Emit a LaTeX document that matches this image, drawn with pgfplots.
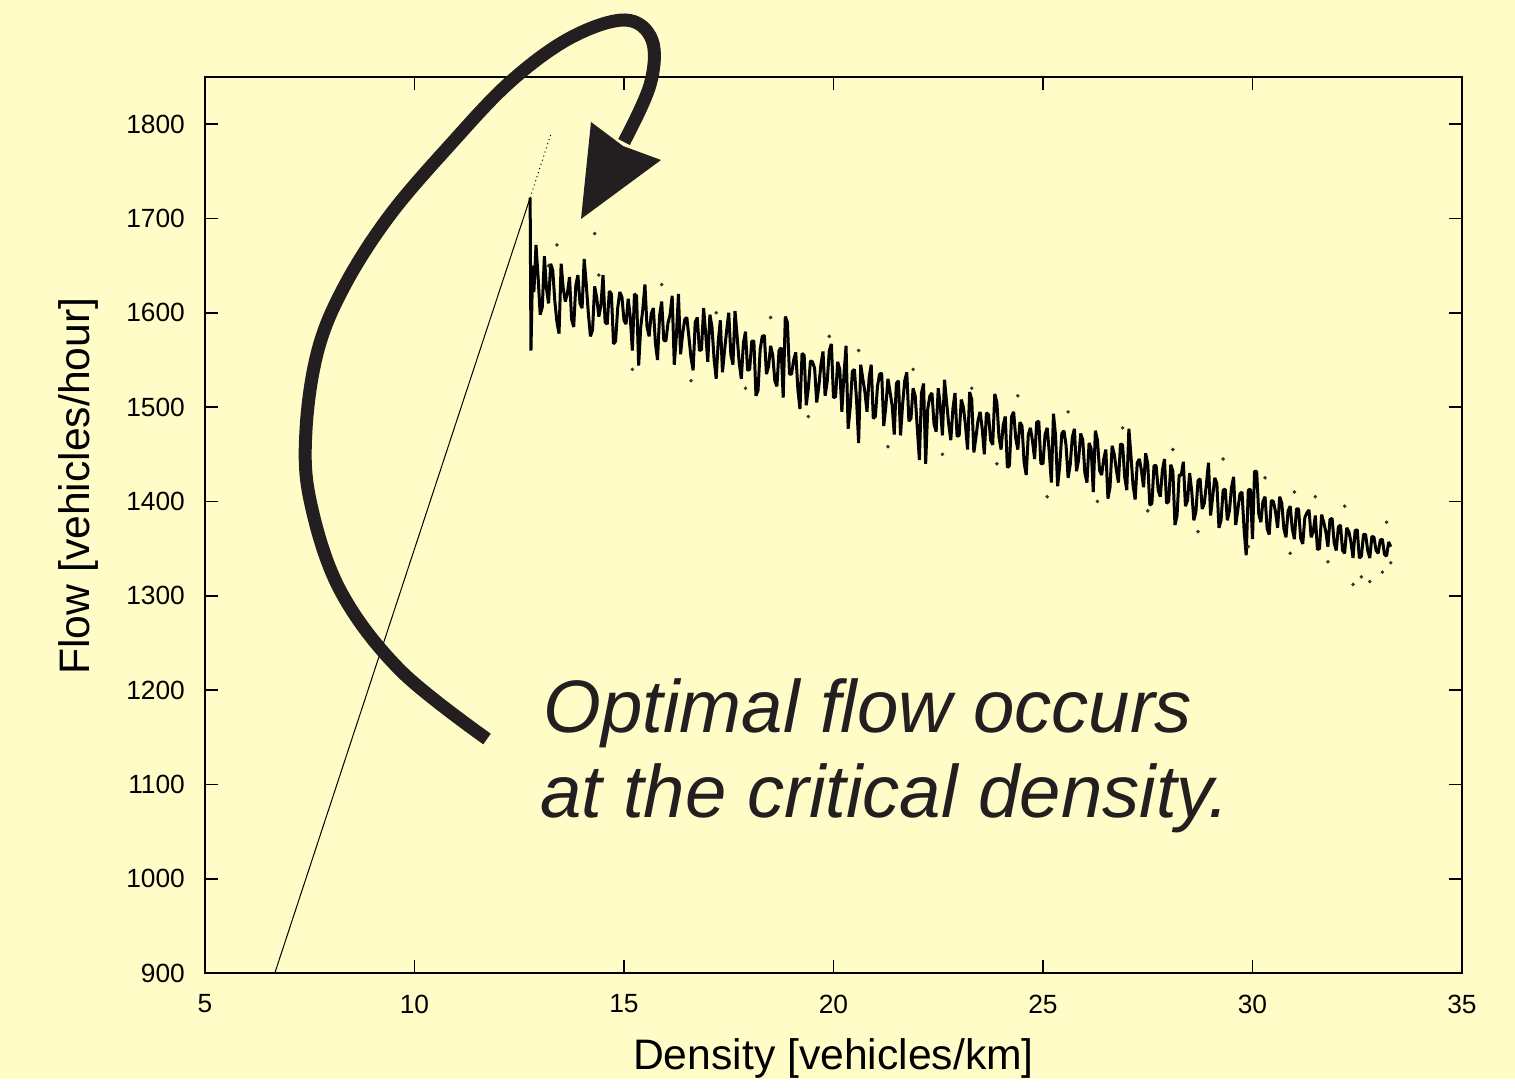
\documentclass[border=0pt]{standalone}
\usepackage{fontspec}
\setmainfont{Liberation Sans}
\usepackage{pgfplots}
\usepackage{pgfplotstable}
\pgfplotsset{compat=1.18}

\definecolor{bgyellow}{RGB}{255,252,200}
\definecolor{ink}{RGB}{35,31,32}

\pgfplotstableread{
x y
12.76 1722
12.78 1560
12.82 1650
12.85 1622
12.9 1672
12.95 1638
13.0 1598
13.05 1606
13.1 1660
13.15 1626
13.2 1610
13.25 1652
13.3 1645
13.35 1612
13.4 1590
13.45 1578
13.5 1652
13.55 1626
13.6 1612
13.65 1621
13.7 1638
13.75 1593
13.8 1585
13.85 1629
13.9 1640
13.95 1610
14.0 1605
14.05 1657
14.1 1630
14.15 1599
14.2 1575
14.25 1582
14.3 1628
14.35 1616
14.4 1596
14.45 1608
14.5 1640
14.55 1590
14.6 1588
14.65 1623
14.7 1620
14.75 1567
14.8 1570
14.85 1605
14.9 1622
14.95 1617
15.0 1592
15.05 1588
15.1 1615
15.15 1595
15.2 1560
15.25 1620
15.3 1618
15.35 1544
15.4 1585
15.45 1604
15.5 1630
15.55 1585
15.6 1575
15.65 1599
15.7 1605
15.75 1568
15.8 1550
15.85 1597
15.9 1612
15.95 1571
16.0 1570
16.05 1589
16.1 1598
16.15 1618
16.2 1545
16.25 1575
16.3 1620
16.35 1556
16.4 1578
16.45 1593
16.5 1595
16.55 1574
16.6 1552
16.65 1539
16.7 1590
16.75 1595
16.8 1560
16.85 1561
16.9 1605
16.95 1578
17.0 1548
17.05 1598
17.1 1585
17.15 1551
17.2 1530
17.25 1570
17.3 1592
17.35 1537
17.4 1560
17.45 1581
17.5 1600
17.55 1556
17.6 1545
17.65 1602
17.7 1575
17.75 1547
17.8 1530
17.85 1568
17.9 1580
17.95 1539
18.0 1540
18.05 1570
18.1 1570
18.15 1512
18.2 1518
18.25 1561
18.3 1575
18.35 1576
18.4 1535
18.45 1543
18.5 1565
18.55 1555
18.6 1528
18.65 1522
18.7 1560
18.75 1563
18.8 1510
18.85 1596
18.9 1590
18.95 1535
19.0 1535
19.05 1550
19.1 1558
19.15 1519
19.2 1498
19.25 1557
19.3 1555
19.35 1502
19.4 1520
19.45 1549
19.5 1548
19.55 1541
19.6 1505
19.65 1522
19.7 1545
19.75 1559
19.8 1512
19.85 1527
19.9 1560
19.95 1567
20.0 1510
20.05 1511
20.1 1548
20.15 1540
20.2 1495
20.25 1534
20.3 1565
20.35 1477
20.4 1500
20.45 1538
20.5 1540
20.55 1508
20.6 1462
20.65 1545
20.7 1530
20.75 1516
20.8 1495
20.85 1531
20.9 1545
20.95 1488
21.0 1490
21.05 1522
21.1 1535
21.15 1536
21.2 1480
21.25 1501
21.3 1530
21.35 1516
21.4 1502
21.45 1471
21.5 1525
21.55 1528
21.6 1470
21.65 1503
21.7 1528
21.75 1537
21.8 1485
21.85 1488
21.9 1520
21.95 1512
22.0 1478
22.05 1444
22.1 1515
22.15 1525
22.2 1440
22.25 1498
22.3 1512
22.35 1515
22.4 1482
22.45 1474
22.5 1520
22.55 1501
22.6 1470
22.65 1529
22.7 1505
22.75 1482
22.8 1465
22.85 1498
22.9 1515
22.95 1469
23.0 1470
23.05 1508
23.1 1500
23.15 1481
23.2 1455
23.25 1516
23.3 1508
23.35 1452
23.4 1468
23.45 1486
23.5 1495
23.55 1477
23.6 1450
23.65 1494
23.7 1492
23.75 1465
23.8 1460
23.85 1514
23.9 1505
23.95 1468
24.0 1455
24.05 1481
24.1 1490
24.15 1436
24.2 1438
24.25 1490
24.3 1495
24.35 1467
24.4 1455
24.45 1484
24.5 1480
24.55 1441
24.6 1428
24.65 1471
24.7 1478
24.75 1464
24.8 1445
24.85 1484
24.9 1485
24.95 1440
25.0 1440
25.05 1471
25.1 1478
25.15 1452
25.2 1420
25.25 1493
25.3 1470
25.35 1416
25.4 1438
25.45 1472
25.5 1475
25.55 1460
25.6 1425
25.65 1439
25.7 1468
25.75 1477
25.8 1432
25.85 1444
25.9 1472
25.95 1465
26.0 1430
26.05 1420
26.1 1462
26.15 1456
26.2 1410
26.25 1475
26.3 1465
26.35 1433
26.4 1428
26.45 1445
26.5 1455
26.55 1403
26.6 1415
26.65 1459
26.7 1450
26.75 1434
26.8 1420
26.85 1461
26.9 1460
26.95 1426
27.0 1412
27.05 1477
27.1 1448
27.15 1417
27.2 1402
27.25 1441
27.3 1445
27.35 1433
27.4 1415
27.45 1451
27.5 1440
27.55 1396
27.6 1398
27.65 1438
27.7 1438
27.75 1412
27.8 1405
27.85 1433
27.9 1445
27.95 1398
28.0 1400
28.05 1439
28.1 1432
28.15 1375
28.2 1385
28.25 1428
28.3 1428
28.35 1442
28.4 1395
28.45 1401
28.5 1430
28.55 1411
28.6 1380
28.65 1389
28.7 1422
28.75 1424
28.8 1392
28.85 1398
28.9 1418
28.95 1441
29.0 1385
29.05 1405
29.1 1425
29.15 1419
29.2 1372
29.25 1380
29.3 1412
29.35 1413
29.4 1380
29.45 1390
29.5 1415
29.55 1426
29.6 1375
29.65 1391
29.7 1408
29.75 1410
29.8 1370
29.85 1343
29.9 1412
29.95 1413
30.0 1360
30.05 1432
30.1 1432
30.15 1387
30.2 1378
30.25 1400
30.3 1405
30.35 1371
30.4 1365
30.45 1401
30.5 1400
30.55 1389
30.6 1372
30.65 1405
30.7 1398
30.75 1371
30.8 1362
30.85 1390
30.9 1395
30.95 1371
31.0 1360
31.05 1392
31.1 1392
31.15 1361
31.2 1355
31.25 1383
31.3 1388
31.35 1391
31.4 1362
31.45 1368
31.5 1385
31.55 1349
31.6 1350
31.65 1386
31.7 1378
31.75 1368
31.8 1352
31.85 1381
31.9 1382
31.95 1356
32.0 1348
32.05 1373
32.1 1375
32.15 1348
32.2 1345
32.25 1372
32.3 1368
32.35 1357
32.4 1340
32.45 1369
32.5 1370
32.55 1340
32.6 1342
32.65 1365
32.7 1365
32.75 1348
32.8 1340
32.85 1363
32.9 1362
32.95 1348
33.0 1345
33.05 1359
33.1 1360
33.15 1344
33.2 1342
33.25 1357
33.3 1352
}\congested

\begin{document}
\begin{tikzpicture}
% pixel frame of the reference image
\begin{scope}[x=0.3pt,y=-0.3pt,shift={(-205,-973)}]
  \fill[bgyellow] (0,0) rectangle (1515,1079);
  \useasboundingbox (0,0) rectangle (1515,1079);
\end{scope}

\begin{axis}[
    at={(0,0)}, anchor=south west,
    scale only axis,
    width=377.1pt, height=268.8pt,
    xmin=5, xmax=35, ymin=900, ymax=1850,
    xtick={5,10,...,35},
    ytick={900,1000,...,1800},
    scaled ticks=false,
    /pgf/number format/1000 sep={},
    /pgf/number format/assume math mode=true,
    tick label style={font=\fontsize{7.9}{9}\selectfont, text=black},
    xticklabel style={yshift=-3.0pt},
    yticklabel style={xshift=-2.5pt},
    tick align=inside,
    major tick length=3.8pt,
    axis line style={line width=0.5pt},
    every tick/.style={line width=0.5pt, black},
    xlabel={Density [vehicles/km]},
    ylabel={Flow [vehicles/hour]},
    label style={font=\fontsize{12.8}{14}\selectfont},
    xlabel style={at={(axis description cs:0.5,-0.095)}, anchor=center},
    ylabel style={at={(axis description cs:-0.101,0.5435)}, anchor=center},
    axis background/.style={fill=bgyellow},
  ]
  % free-flow branch
  \addplot[black, line width=0.3pt] coordinates {(6.6,891) (12.76,1722)};
  \addplot[black, line width=0.3pt, densely dotted] coordinates {(12.76,1722) (13.26,1790)};
  % congested branch
  \addplot[black, line width=0.9pt, line join=bevel] table[x=x,y=y] {\congested};
  % scattered points
  \addplot[only marks, mark=*, mark size=0.3pt, black!80] coordinates {
    (13.4,1672) (14.4,1640) (14.3,1684) (13.2,1650) (15.2,1540) (15.9,1630)
    (16.6,1528) (17.2,1600) (17.9,1520) (18.5,1595) (19.4,1490) (19.9,1575)
    (20.6,1560) (21.3,1458) (21.9,1540) (22.6,1450) (23.3,1520) (23.9,1440)
    (24.4,1512) (25.1,1405) (25.6,1495) (26.3,1400) (26.9,1478) (27.5,1390)
    (28.1,1455) (28.7,1368) (29.3,1445) (29.9,1352) (30.3,1425) (30.9,1345)
    (31.5,1405) (31.8,1336) (32.2,1395) (32.6,1320) (32.8,1315) (33.1,1325)
    (33.3,1335) (32.4,1312) (33.2,1378) (31.0,1410)
  };
\end{axis}

% annotation, in pixel coordinates of the reference
\begin{scope}[x=0.3pt,y=-0.3pt,shift={(-205,-973)}]
  \draw[ink, line width=3.9pt, line cap=butt] plot[smooth, tension=0.6] coordinates {
    (487,739) (400,670) (340,590) (310,500) (306,430) (318,350) (345,285)
    (390,215) (450,145) (510,82) (570,38) (625,20) (652,40) (650,85) (624,142)};
  \fill[ink] (591,122) -- (623,146) -- (661,160) -- (581,219) -- cycle;
  \node[anchor=base west, inner sep=0pt, text=ink,
        font=\fontsize{22.3}{26}\selectfont\itshape] at (543,733) {Optimal flow occurs};
  \node[anchor=base west, inner sep=0pt, text=ink,
        font=\fontsize{22.3}{26}\selectfont\itshape] at (540,817) {at the critical density.};
\end{scope}
\end{tikzpicture}
\end{document}
